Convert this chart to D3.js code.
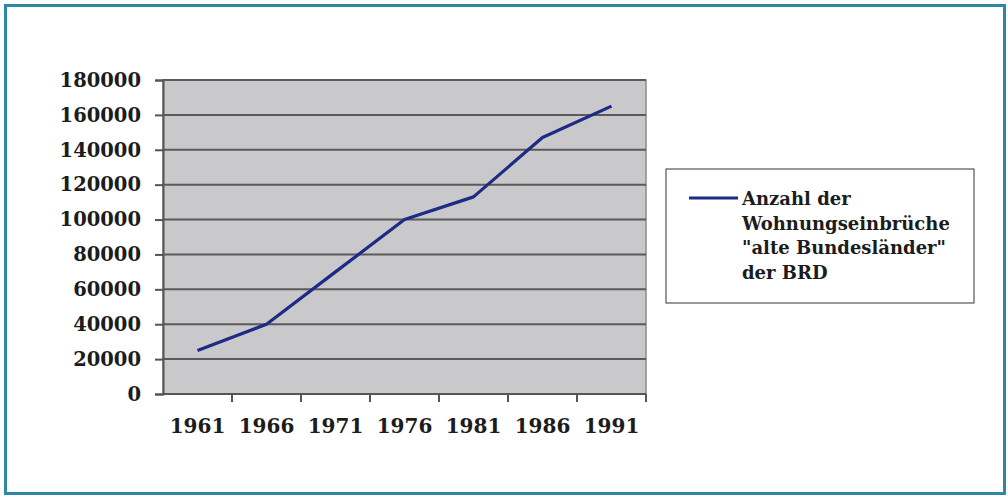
<!DOCTYPE html>
<html>
<head>
<meta charset="utf-8">
<script src="https://cdn.jsdelivr.net/npm/d3@7"></script>
<style>
  html, body { margin: 0; padding: 0; background: #fff; }
  svg text { font-family: "DejaVu Serif", serif; font-weight: bold; fill: #1c1c1c; }
</style>
</head>
<body>
<svg id="chart"></svg>
<script>
// data
var years = ["1961", "1966", "1971", "1976", "1981", "1986", "1991"]
var einbrueche = [25000, 40000, 70000, 100000, 113000, 147000, 165000]
var yTicks = [0, 20000, 40000, 60000, 80000, 100000, 120000, 140000, 160000, 180000]
var legendLines = ["Anzahl der", "Wohnungseinbrüche", "\"alte Bundesländer\"", "der BRD"]

var width = 1008, height = 497
var plot = {left: 163, right: 646, top: 80, bottom: 394}

var svg = d3.select("#chart")
    .attr("width", width)
    .attr("height", height)

// outer frame
svg.append("rect")
    .attr("x", 5.5).attr("y", 5.5)
    .attr("width", width - 9).attr("height", height - 9)
    .attr("fill", "none")
    .attr("stroke", "#2c88a4")
    .attr("stroke-width", 3)

var x = d3.scaleBand()
    .domain(years)
    .range([plot.left, plot.right])

var y = d3.scaleLinear()
    .domain([0, 180000])
    .range([plot.bottom, plot.top])

// plot background
svg.append("rect")
    .attr("x", plot.left).attr("y", plot.top)
    .attr("width", plot.right - plot.left)
    .attr("height", plot.bottom - plot.top)
    .attr("fill", "#c9c9cb")
    .attr("stroke", "#8a8a8a")
    .attr("stroke-width", 1.5)

// horizontal gridlines
svg.append("g")
    .selectAll("line")
    .data(yTicks.filter(function(d) { return d > 0 }))
    .enter()
    .append("line")
    .attr("x1", plot.left).attr("x2", plot.right)
    .attr("y1", function(d) { return y(d) })
    .attr("y2", function(d) { return y(d) })
    .attr("stroke", "#5a5a5a")
    .attr("stroke-width", 2)

// y axis
var yAxis = d3.axisLeft(y)
    .tickValues(yTicks)
    .tickSize(8)
    .tickPadding(14)
    .tickFormat(d3.format("d"))

var gy = svg.append("g")
    .attr("transform", `translate(${plot.left},0)`)
    .call(yAxis)
gy.select(".domain").attr("stroke", "#555").attr("stroke-width", 2)
gy.selectAll(".tick line").attr("stroke", "#555").attr("stroke-width", 2)
gy.selectAll("text").attr("font-size", 19.5).style("fill", "#1c1c1c")

// x axis: ticks on category boundaries, labels centered
var gx = svg.append("g")
    .attr("transform", `translate(0,${plot.bottom})`)
gx.append("line")
    .attr("x1", plot.left).attr("x2", plot.right)
    .attr("stroke", "#555").attr("stroke-width", 2)
gx.selectAll(".xtick")
    .data(years)
    .enter()
    .append("line")
    .attr("class", "xtick")
    .attr("x1", function(d) { return x(d) + x.bandwidth() })
    .attr("x2", function(d) { return x(d) + x.bandwidth() })
    .attr("y1", 0).attr("y2", 8)
    .attr("stroke", "#555").attr("stroke-width", 2)
gx.selectAll(".xlabel")
    .data(years)
    .enter()
    .append("text")
    .attr("class", "xlabel")
    .attr("x", function(d) { return x(d) + x.bandwidth() / 2 })
    .attr("y", 39)
    .attr("text-anchor", "middle")
    .attr("font-size", 20)
    .text(function(d) { return d })

// the series line
var line = d3.line()
    .x(function(d, i) { return x(years[i]) + x.bandwidth() / 2 })
    .y(function(d) { return y(d) })

svg.append("path")
    .datum(einbrueche)
    .attr("d", line)
    .attr("fill", "none")
    .attr("stroke", "#1f2a84")
    .attr("stroke-width", 3.2)
    .attr("stroke-linejoin", "round")

// legend
var legend = svg.append("g").attr("transform", "translate(666,169)")
legend.append("rect")
    .attr("width", 308).attr("height", 134)
    .attr("fill", "#fff")
    .attr("stroke", "#555")
    .attr("stroke-width", 1.2)
legend.append("line")
    .attr("x1", 23).attr("x2", 72)
    .attr("y1", 29).attr("y2", 29)
    .attr("stroke", "#1f2a84")
    .attr("stroke-width", 3.2)
legend.selectAll("text")
    .data(legendLines)
    .enter()
    .append("text")
    .attr("x", 76)
    .attr("y", function(d, i) { return 36 + i * 24.5 })
    .attr("font-size", 18)
    .text(function(d) { return d })
</script>
</body>
</html>
